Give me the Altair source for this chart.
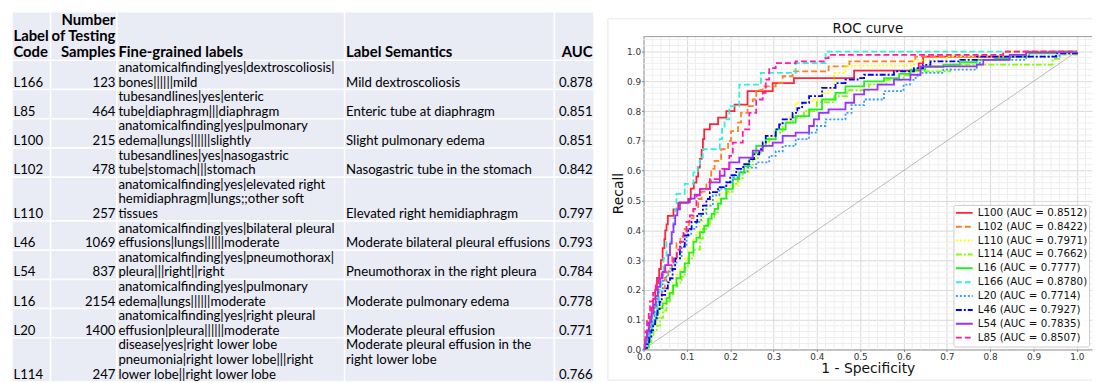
import altair as alt
import pandas as pd

# ---------------- table data ----------------
codes = ["L166", "L85", "L100", "L102", "L110", "L46", "L54", "L16", "L20", "L114"]
samples = ["123", "464", "215", "478", "257", "1069", "837", "2154", "1400", "247"]
fine_labels = [
    ["anatomicalfinding|yes|dextroscoliosis|", "bones||||||mild"],
    ["tubesandlines|yes|enteric", "tube|diaphragm|||diaphragm"],
    ["anatomicalfinding|yes|pulmonary", "edema|lungs||||||slightly"],
    ["tubesandlines|yes|nasogastric", "tube|stomach|||stomach"],
    ["anatomicalfinding|yes|elevated right", "hemidiaphragm|lungs;;other soft", "tissues"],
    ["anatomicalfinding|yes|bilateral pleural", "effusions|lungs||||||moderate"],
    ["anatomicalfinding|yes|pneumothorax|", "pleura|||right||right"],
    ["anatomicalfinding|yes|pulmonary", "edema|lungs||||||moderate"],
    ["anatomicalfinding|yes|right pleural", "effusion|pleura||||||moderate"],
    ["disease|yes|right lower lobe", "pneumonia|right lower lobe|||right", "lower lobe||right lower lobe"],
]
semantics = [
    ["Mild dextroscoliosis"],
    ["Enteric tube at diaphragm"],
    ["Slight pulmonary edema"],
    ["Nasogastric tube in the stomach"],
    ["Elevated right hemidiaphragm"],
    ["Moderate bilateral pleural effusions"],
    ["Pneumothorax in the right pleura"],
    ["Moderate pulmonary edema"],
    ["Moderate pleural effusion"],
    ["Moderate pleural effusion in the", "right lower lobe", ""],
]
auc_table = ["0.878", "0.851", "0.851", "0.842", "0.797", "0.793", "0.784", "0.778", "0.771", "0.766"]
headers = [["Label", "Code"], ["Number", "of Testing", "Samples"], ["Fine-grained labels"],
           ["Label Semantics"], ["AUC"]]

# ---------------- ROC data ----------------
roc_codes = ["L100", "L102", "L110", "L114", "L16", "L166", "L20", "L46", "L54", "L85"]
roc_auc = [0.8512, 0.8422, 0.7971, 0.7662, 0.7777, 0.8780, 0.7714, 0.7927, 0.7835, 0.8507]
roc_colors = ["#ff2238", "#ff8020", "#ffff00", "#7fff00", "#22ee22",
              "#33eedd", "#2f9bff", "#0000ff", "#9932ff", "#ff1aa8"]
roc_dashes = [[1, 0], [6, 3], [2, 2], [6, 2, 2, 2], [1, 0],
              [6, 3], [2, 2], [6, 2, 2, 2], [1, 0], [6, 3]]

roc_L100 = [(0, 0), (0.004, 0.03), (0.008, 0.06), (0.012, 0.09), (0.015, 0.11), (0.019, 0.14),
            (0.022, 0.17), (0.027, 0.2), (0.031, 0.24), (0.036, 0.27), (0.04, 0.3), (0.044, 0.34),
            (0.048, 0.37), (0.05, 0.4), (0.053, 0.42), (0.056, 0.448), (0.069, 0.47), (0.08, 0.492),
            (0.103, 0.505), (0.109, 0.54), (0.116, 0.56), (0.122, 0.58), (0.126, 0.61), (0.13, 0.64),
            (0.134, 0.67), (0.137, 0.706), (0.14, 0.739), (0.153, 0.756), (0.172, 0.778),
            (0.191, 0.8), (0.21, 0.822), (0.24, 0.867), (0.298, 0.894), (0.347, 0.911),
            (0.486, 0.936), (0.635, 0.96), (0.645, 0.983), (0.883, 1.0), (1.0, 1.0)]
roc_L102 = [(0, 0), (0.004, 0.02), (0.008, 0.05), (0.013, 0.08), (0.018, 0.11), (0.023, 0.139),
            (0.028, 0.16), (0.034, 0.18), (0.042, 0.205), (0.049, 0.24), (0.057, 0.272),
            (0.066, 0.31), (0.076, 0.356), (0.085, 0.38), (0.095, 0.405), (0.105, 0.44),
            (0.115, 0.472), (0.126, 0.505), (0.134, 0.53), (0.145, 0.561), (0.156, 0.606),
            (0.164, 0.633), (0.179, 0.672), (0.195, 0.7), (0.202, 0.733), (0.218, 0.761),
            (0.225, 0.794), (0.24, 0.817), (0.252, 0.839), (0.26, 0.87), (0.275, 0.883),
            (0.305, 0.894), (0.321, 0.917), (0.344, 0.933), (0.427, 0.95), (0.475, 0.967),
            (0.627, 0.983), (0.83, 1.0), (1.0, 1.0)]
roc_L110 = [(0, 0), (0.005, 0.02), (0.01, 0.04), (0.015, 0.061), (0.022, 0.09), (0.03, 0.12),
            (0.038, 0.145), (0.046, 0.172), (0.056, 0.2), (0.066, 0.225), (0.075, 0.25),
            (0.084, 0.272), (0.095, 0.31), (0.105, 0.34), (0.115, 0.37), (0.122, 0.394),
            (0.13, 0.43), (0.137, 0.461), (0.145, 0.48), (0.153, 0.5), (0.175, 0.525),
            (0.198, 0.55), (0.221, 0.594), (0.244, 0.639), (0.26, 0.665), (0.275, 0.694),
            (0.29, 0.715), (0.305, 0.739), (0.32, 0.76), (0.336, 0.783), (0.351, 0.828),
            (0.389, 0.839), (0.41, 0.86), (0.427, 0.872), (0.44, 0.928), (0.466, 0.953),
            (0.624, 0.97), (0.7, 0.985), (0.85, 1.0), (1.0, 1.0)]
roc_L114 = [(0, 0), (0.006, 0.01), (0.012, 0.025), (0.018, 0.045), (0.023, 0.061), (0.03, 0.08),
            (0.038, 0.106), (0.045, 0.13), (0.053, 0.161), (0.061, 0.185), (0.069, 0.211),
            (0.078, 0.225), (0.088, 0.244), (0.095, 0.275), (0.103, 0.306), (0.115, 0.335),
            (0.13, 0.372), (0.137, 0.405), (0.145, 0.42), (0.153, 0.439), (0.163, 0.46),
            (0.172, 0.483), (0.179, 0.506), (0.192, 0.53), (0.206, 0.556), (0.218, 0.575),
            (0.229, 0.594), (0.24, 0.615), (0.252, 0.639), (0.264, 0.66), (0.275, 0.683),
            (0.29, 0.705), (0.305, 0.728), (0.321, 0.761), (0.344, 0.778), (0.37, 0.8),
            (0.4, 0.83), (0.44, 0.85), (0.47, 0.87), (0.52, 0.89), (0.56, 0.905), (0.6, 0.92),
            (0.616, 0.933), (0.708, 0.956), (0.944, 0.975), (0.96, 0.99), (1.0, 1.0)]
roc_L16 = [(0, 0), (0.004, 0.003), (0.008, 0.006), (0.012, 0.03), (0.015, 0.06), (0.019, 0.083),
           (0.025, 0.1), (0.03, 0.12), (0.034, 0.139), (0.044, 0.155), (0.053, 0.172),
           (0.06, 0.19), (0.068, 0.215), (0.076, 0.239), (0.085, 0.26), (0.095, 0.289),
           (0.105, 0.325), (0.115, 0.361), (0.122, 0.375), (0.13, 0.394), (0.14, 0.415),
           (0.149, 0.439), (0.157, 0.455), (0.164, 0.472), (0.172, 0.49), (0.179, 0.506),
           (0.191, 0.539), (0.206, 0.572), (0.221, 0.594), (0.232, 0.615), (0.244, 0.639),
           (0.252, 0.66), (0.26, 0.683), (0.282, 0.706), (0.305, 0.739), (0.328, 0.761),
           (0.351, 0.783), (0.382, 0.806), (0.412, 0.839), (0.443, 0.861), (0.466, 0.883),
           (0.509, 0.9), (0.555, 0.911), (0.59, 0.925), (0.616, 0.939), (0.65, 0.948),
           (0.692, 0.956), (0.73, 0.964), (0.769, 0.972), (0.81, 0.978), (0.845, 0.983),
           (0.89, 0.994), (0.95, 1.0), (1.0, 1.0)]
roc_L166 = [(0, 0), (0.004, 0.02), (0.008, 0.04), (0.012, 0.05), (0.015, 0.061), (0.02, 0.09),
            (0.025, 0.125), (0.031, 0.161), (0.036, 0.2), (0.041, 0.25), (0.046, 0.306),
            (0.053, 0.361), (0.065, 0.394), (0.069, 0.44), (0.073, 0.47), (0.076, 0.494),
            (0.076, 0.522), (0.095, 0.556), (0.115, 0.594), (0.125, 0.62), (0.13, 0.645),
            (0.137, 0.672), (0.176, 0.706), (0.181, 0.74), (0.187, 0.772), (0.198, 0.817),
            (0.221, 0.889), (0.271, 0.928), (0.351, 0.961), (0.42, 1.0), (1.0, 1.0)]
roc_L20 = [(0, 0), (0.004, 0.02), (0.008, 0.04), (0.012, 0.06), (0.015, 0.083), (0.02, 0.11),
           (0.025, 0.14), (0.03, 0.17), (0.034, 0.194), (0.044, 0.23), (0.053, 0.261),
           (0.065, 0.285), (0.076, 0.306), (0.088, 0.345), (0.099, 0.383), (0.11, 0.405),
           (0.122, 0.428), (0.133, 0.455), (0.145, 0.483), (0.16, 0.517), (0.175, 0.54),
           (0.191, 0.561), (0.206, 0.578), (0.221, 0.594), (0.24, 0.61), (0.26, 0.628),
           (0.29, 0.65), (0.305, 0.665), (0.321, 0.683), (0.351, 0.706), (0.382, 0.728),
           (0.4, 0.75), (0.42, 0.772), (0.466, 0.794), (0.48, 0.82), (0.509, 0.839),
           (0.555, 0.867), (0.6, 0.889), (0.615, 0.905), (0.628, 0.918), (0.639, 0.928),
           (0.692, 0.939), (0.769, 0.956), (0.776, 0.972), (0.883, 0.983), (0.96, 0.994),
           (1.0, 1.0)]
roc_L46 = [(0, 0), (0.004, 0.005), (0.008, 0.017), (0.013, 0.04), (0.018, 0.065), (0.022, 0.085),
           (0.027, 0.106), (0.032, 0.13), (0.037, 0.16), (0.042, 0.183), (0.05, 0.205),
           (0.056, 0.225), (0.061, 0.239), (0.067, 0.27), (0.073, 0.306), (0.084, 0.345),
           (0.095, 0.383), (0.103, 0.405), (0.111, 0.428), (0.124, 0.455), (0.137, 0.483),
           (0.145, 0.505), (0.153, 0.528), (0.172, 0.545), (0.191, 0.561), (0.2, 0.585),
           (0.214, 0.606), (0.23, 0.622), (0.244, 0.639), (0.255, 0.655), (0.267, 0.672),
           (0.275, 0.695), (0.282, 0.717), (0.305, 0.739), (0.313, 0.755), (0.321, 0.772),
           (0.344, 0.794), (0.355, 0.81), (0.366, 0.828), (0.382, 0.85), (0.412, 0.878),
           (0.443, 0.894), (0.466, 0.906), (0.494, 0.911), (0.509, 0.922), (0.578, 0.933),
           (0.624, 0.944), (0.645, 0.955), (0.662, 0.967), (0.731, 0.972), (0.769, 0.983),
           (0.952, 0.994), (1.0, 1.0)]
roc_L54 = [(0, 0), (0.003, 0.02), (0.005, 0.04), (0.008, 0.061), (0.013, 0.09), (0.018, 0.12),
           (0.023, 0.15), (0.028, 0.18), (0.033, 0.21), (0.038, 0.239), (0.044, 0.26),
           (0.05, 0.283), (0.057, 0.317), (0.061, 0.355), (0.065, 0.394), (0.069, 0.42),
           (0.073, 0.45), (0.078, 0.47), (0.084, 0.494), (0.107, 0.506), (0.118, 0.52),
           (0.13, 0.539), (0.153, 0.561), (0.176, 0.583), (0.187, 0.605), (0.198, 0.628),
           (0.221, 0.644), (0.252, 0.667), (0.275, 0.683), (0.298, 0.694), (0.321, 0.717),
           (0.351, 0.728), (0.382, 0.75), (0.393, 0.772), (0.405, 0.794), (0.427, 0.806),
           (0.466, 0.828), (0.486, 0.856), (0.509, 0.872), (0.54, 0.889), (0.578, 0.906),
           (0.616, 0.922), (0.639, 0.95), (0.769, 0.956), (0.784, 0.972), (0.845, 0.989),
           (0.883, 0.997), (1.0, 1.0)]
roc_L85 = [(0, 0), (0.002, 0.02), (0.004, 0.061), (0.008, 0.1), (0.012, 0.13), (0.015, 0.161),
           (0.022, 0.19), (0.028, 0.215), (0.034, 0.239), (0.042, 0.26), (0.05, 0.283),
           (0.069, 0.306), (0.077, 0.335), (0.084, 0.361), (0.092, 0.395), (0.099, 0.428),
           (0.107, 0.45), (0.115, 0.472), (0.122, 0.517), (0.13, 0.539), (0.153, 0.572),
           (0.176, 0.606), (0.198, 0.65), (0.206, 0.694), (0.229, 0.739), (0.244, 0.794),
           (0.26, 0.839), (0.275, 0.861), (0.282, 0.906), (0.29, 0.944), (0.305, 0.961),
           (0.351, 0.967), (0.42, 0.978), (0.427, 0.989), (0.83, 1.0), (1.0, 1.0)]
roc_points = [roc_L100, roc_L102, roc_L110, roc_L114, roc_L16,
              roc_L166, roc_L20, roc_L46, roc_L54, roc_L85]
diag_fpr = [0, 1]
diag_tpr = [0, 1]
x_ticks = [round(0.1 * i, 1) for i in range(11)]
minor_x = [round(0.02 * i, 2) for i in range(52) if i % 5]
minor_y = [round(0.02 * i, 2) for i in range(53) if i % 5]

# ---------------- table layout ----------------
COL_EDGES = [0, 39, 106, 336, 548, 588]
COL_ALIGN = ["left", "right", "left", "left", "right"]
TABLE_W, TABLE_H = 588, 374
TOP_SHIFT = 25          # table extends above the shared plot top by this much
HEADER_H = 49
LINE_H = 14.75
HEADER_LINE_H = 16.5
INSET = 1.5

cells, texts = [], []


def add_cell(col, top, bottom, lines, bold, line_h, gap):
    cells.append(dict(x=COL_EDGES[col], x2=COL_EDGES[col + 1], y=top, y2=bottom))
    n = len(lines)
    for k, line in enumerate(lines):
        if not line:
            continue
        yy = bottom - gap - (n - 1 - k) * line_h
        if COL_ALIGN[col] == "left":
            xx = COL_EDGES[col] + INSET
        else:
            xx = COL_EDGES[col + 1] - INSET
        texts.append(dict(x=xx, y=yy, t=line, align=COL_ALIGN[col], bold=bold))


for c, h in enumerate(headers):
    add_cell(c, 0, HEADER_H, h, True, HEADER_LINE_H, 8)

top = HEADER_H
for i in range(len(codes)):
    n = max(len(fine_labels[i]), len(semantics[i]))
    bottom = top + n * LINE_H
    row_cells = [[codes[i]], [samples[i]], fine_labels[i], semantics[i], [auc_table[i]]]
    for c, lines in enumerate(row_cells):
        add_cell(c, top, bottom, lines, False, LINE_H, 7)
    top = bottom

cells_df = pd.DataFrame(cells)
texts_df = pd.DataFrame(texts)

tx = alt.Scale(domain=[0, TABLE_W], nice=False, zero=False)
ty = alt.Scale(domain=[TOP_SHIFT, TABLE_H], nice=False, zero=False, reverse=True)

table_layers = [
    alt.Chart(cells_df).mark_rect(fill="#e9ebf5", stroke="white", strokeWidth=1.5).encode(
        x=alt.X("x:Q", scale=tx, axis=None), x2="x2:Q",
        y=alt.Y("y:Q", scale=ty, axis=None), y2="y2:Q")
]
for align in ["left", "right"]:
    for bold in [False, True]:
        sub = texts_df[(texts_df["align"] == align) & (texts_df["bold"] == bold)]
        if len(sub) == 0:
            continue
        table_layers.append(
            alt.Chart(sub).mark_text(
                align=align, baseline="middle", font="Lato",
                fontSize=15 if bold else 13.3, fontWeight="bold" if bold else "normal",
                color="black").encode(
                x=alt.X("x:Q", scale=tx, axis=None),
                y=alt.Y("y:Q", scale=ty, axis=None),
                text="t:N"))

table = alt.layer(*table_layers).properties(
    width=TABLE_W, height=TABLE_H - TOP_SHIFT, view=alt.ViewBackground(stroke="transparent"))

# ---------------- ROC chart ----------------
W, H = 453, 316
series_labels = [f"{c} (AUC = {a:.4f})" for c, a in zip(roc_codes, roc_auc)]
rows = []
for lab, pts in zip(series_labels, roc_points):
    for k, (f, t) in enumerate(pts):
        rows.append(dict(series=lab, fpr=f, tpr=t, idx=k))
curves_df = pd.DataFrame(rows)

xs = alt.Scale(domain=[0, 1.035], nice=False, zero=False)
ys = alt.Scale(domain=[0, 1.05], nice=False, zero=False)
axis_common = dict(grid=True, gridColor="#d9d9d9", gridWidth=1, domain=True, domainColor="#999999",
                   tickSize=2, tickColor="#777777", labelFontSize=9, labelColor="#333333",
                   labelPadding=1, labelFlush=False, labelFont="DejaVu Sans",
                   titleFont="DejaVu Sans", titleFontSize=14, titleFontWeight="normal",
                   titleColor="#111111", values=x_ticks, format=".1f")
x_axis = alt.Axis(title="1 - Specificity", titlePadding=0, **axis_common)
y_axis = alt.Axis(title="Recall", titlePadding=1, **axis_common)
X = alt.X("fpr:Q", scale=xs, axis=x_axis)
Y = alt.Y("tpr:Q", scale=ys, axis=y_axis)

one = pd.DataFrame({"t": ["ROC curve"]})
spacer = alt.Chart(one).mark_rule(color="white").encode(
    x=alt.value(0), x2=alt.value(1), y=alt.value(-TOP_SHIFT))
frame_top = alt.Chart(one).mark_rule(color="#e6e6e6").encode(
    x=alt.value(-36), x2=alt.value(W), y=alt.value(-18))
frame_left = alt.Chart(one).mark_rule(color="#e6e6e6").encode(
    x=alt.value(-36), y=alt.value(-18), y2=alt.value(H + 31))
frame_bottom = alt.Chart(one).mark_rule(color="#e6e6e6").encode(
    x=alt.value(-36), x2=alt.value(W), y=alt.value(H + 31))

minor_v = alt.Chart(pd.DataFrame({"fpr": minor_x})).mark_rule(
    color="#eeeeee", strokeWidth=1).encode(x=X)
minor_h = alt.Chart(pd.DataFrame({"tpr": minor_y})).mark_rule(
    color="#eeeeee", strokeWidth=1).encode(y=Y)
top_edge = alt.Chart(one).mark_rule(color="#999999").encode(y=alt.value(0))
diag = alt.Chart(pd.DataFrame({"fpr": diag_fpr, "tpr": diag_tpr})).mark_line(
    color="#aaaaaa", strokeWidth=0.8).encode(x=X, y=Y)

# legend is placed at the top level of the concatenation: coordinates are relative to
# the table's plot origin (top-left of the row's plot areas)
legend = alt.Legend(title=None, orient="none", legendX=951, legendY=170,
                    symbolType="stroke", symbolSize=289, symbolStrokeWidth=2,
                    labelFont="DejaVu Sans", labelFontSize=10.4, labelColor="#111111",
                    fillColor="rgba(255,255,255,0.85)", strokeColor="#cccccc",
                    padding=1.5, rowPadding=0, labelOffset=4, clipHeight=13.1,
                    cornerRadius=2, labelLimit=200)
curves = alt.Chart(curves_df).mark_line(interpolate="step-after", strokeWidth=1.8, clip=True).encode(
    x=X, y=Y,
    color=alt.Color("series:N", scale=alt.Scale(domain=series_labels, range=roc_colors),
                    legend=legend),
    strokeDash=alt.StrokeDash("series:N", scale=alt.Scale(domain=series_labels, range=roc_dashes),
                              legend=legend),
    order=alt.Order("idx:Q"))
title = alt.Chart(one).mark_text(font="DejaVu Sans", fontSize=13.5, baseline="alphabetic",
                                 align="center", color="#111111").encode(
    x=alt.value(W / 2), y=alt.value(-4), text="t:N")

roc = alt.layer(spacer, frame_top, frame_left, frame_bottom, minor_v, minor_h, top_edge,
                diag, curves, title).properties(
    width=W, height=H, view=alt.ViewBackground(stroke="transparent", fill="white"))

chart = alt.hconcat(table, roc, spacing=11).properties(
    padding={"left": 2, "top": 0, "right": 0, "bottom": 0})

chart.save("out.html", embed_options={"renderer": "svg", "actions": False})
